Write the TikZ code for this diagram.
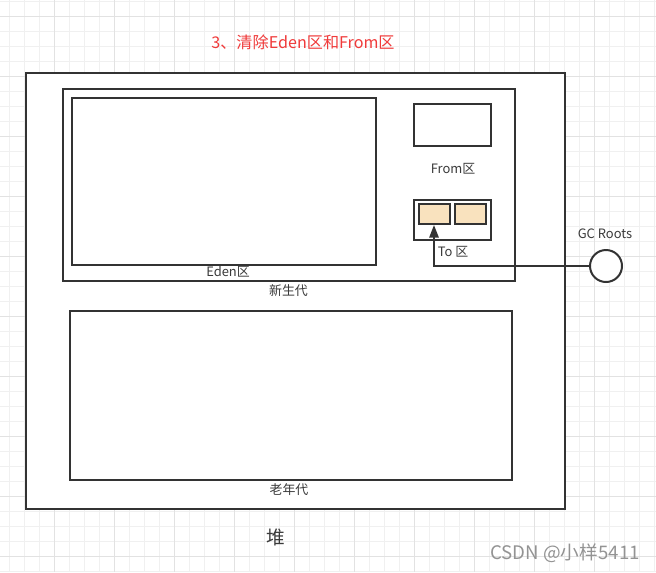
\documentclass[tikz,border=0pt]{standalone}
\usepackage{fontspec}
\setmainfont{Noto Sans CJK SC}
\usetikzlibrary{arrows.meta}
\definecolor{ln}{HTML}{333333}
\definecolor{txt}{HTML}{3A3A3A}
\definecolor{gminor}{HTML}{F0F0F0}
\definecolor{gmajor}{HTML}{E2E2E2}
\definecolor{cell}{HTML}{F9E2BE}
\definecolor{title}{HTML}{F03A3A}
\tikzset{
  R/.style 2 args={draw=ln, line width=1.5pt, fill=white, inner sep=0pt, minimum width=#1*0.75pt, minimum height=#2*0.75pt},
  lbl/.style={text=txt, font=\fontsize{9.7pt}{11pt}\selectfont, inner sep=0pt},
}
\begin{document}
\begin{tikzpicture}[x=0.75pt, y=-0.75pt]
\fill[white] (0,0) rectangle (656,572);
\useasboundingbox (0,0) rectangle (656,572);
\foreach \i in {0,...,43} {
  \pgfmathsetmacro{\xx}{9.5+15*\i}
  \draw[gminor, line width=0.75pt] (\xx,0) -- (\xx,572);
}
\foreach \i in {0,...,38} {
  \pgfmathsetmacro{\yy}{1.7+15*\i}
  \draw[gminor, line width=0.75pt] (0,\yy) -- (656,\yy);
}
\foreach \i in {0,...,10} {
  \pgfmathsetmacro{\xx}{-5.5+60*\i}
  \draw[gmajor, line width=0.75pt] (\xx,0) -- (\xx,572);
}
\foreach \i in {0,...,9} {
  \pgfmathsetmacro{\yy}{16.7+60*\i}
  \draw[gmajor, line width=0.75pt] (0,\yy) -- (656,\yy);
}
\node[text=title, font=\fontsize{12.1pt}{14pt}\selectfont] (ttl) at (303,42) {3、清除Eden区和From区};
\node[R={539}{436}] (heap) at (295.5,291) {};
\node[R={452}{192}] (young) at (289,185) {};
\node[R={304}{167}] (eden) at (224,181.5) {};
\node[R={77}{42}] (from) at (452.5,125) {};
\node[R={77}{40}] (to) at (452.5,220) {};
\node[R={31}{20}, fill=cell] (c1) at (434,214) {};
\node[R={31}{20}, fill=cell] (c2) at (470,214) {};
\node[R={442}{169}] (old) at (291,395.5) {};
\node[circle, draw=ln, line width=1.5pt, fill=white, minimum size=24pt, inner sep=0pt] (gc) at (606,266) {};
\node[lbl] (fromlbl) at (453,169) {From区};
\node[lbl] (tolbl) at (453,252) {To 区};
\node[lbl] (edenlbl) at (228,272) {Eden区};
\node[lbl] (younglbl) at (288.5,291) {新生代};
\node[lbl] (oldlbl) at (289,489.5) {老年代};
\node[lbl] (gclbl) at (605,234) {GC Roots};
\node[text=txt, font=\fontsize{14pt}{16pt}\selectfont, inner sep=0pt] (heaplbl) at (275.5,537) {堆};
\node[text=gray!85, font=\fontsize{14pt}{16pt}\selectfont, inner sep=0pt] (wm) at (565,553) {CSDN @小样5411};
\draw[ln, line width=1.5pt, -{Triangle[length=9.5pt, width=7pt]}] (gc.west) -| (c1.south);
\end{tikzpicture}
\end{document}
